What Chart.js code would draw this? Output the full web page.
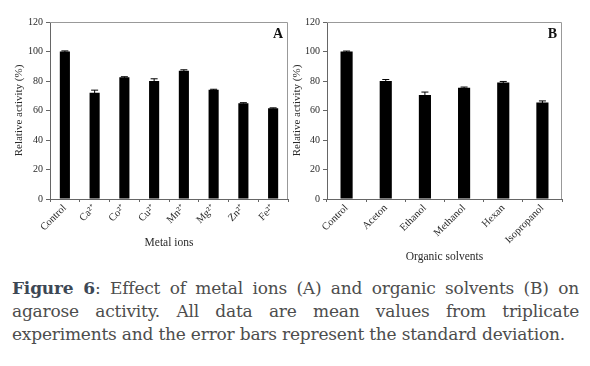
<!DOCTYPE html>
<html>
<head>
<meta charset="utf-8">
<script src="https://cdn.jsdelivr.net/npm/chart.js@4.4.1/dist/chart.umd.min.js"></script>
<style>
  body { margin: 0; background: #fff; width: 590px; height: 366px; position: relative; overflow: hidden; }
  .panel { position: absolute; top: 0; height: 270px; }
  #caption {
    position: absolute; left: 12px; top: 277px; width: 567px;
    font-family: "DejaVu Serif", serif; font-size: 17px; line-height: 23px;
    letter-spacing: -0.2px; color: #4d4d4d; text-align: justify;
  }
  #caption b { color: #3d4855; }
</style>
</head>
<body>
<div class="panel" style="left:0;width:295px"><canvas id="chartA"></canvas></div>
<div class="panel" style="left:288px;width:302px"><canvas id="chartB"></canvas></div>
<div id="caption"><b>Figure 6</b>: Effect of metal ions (A) and organic solvents (B) on agarose activity. All data are mean values from triplicate experiments and the error bars represent the standard deviation.</div>
<script>
// panel A - metal ions
const metalLabels = ["Control", "Ca²⁺", "Co²⁺", "Cu²⁺", "Mn²⁺", "Mg²⁺", "Zn²⁺", "Fe²⁺"];
const metalValues = [100, 72, 82.5, 80, 87, 74, 65, 61.5];
const metalErrors = [0.4, 1.8, 0.4, 1.5, 0.6, 0.4, 0.3, 0.3];

// panel B - organic solvents
const solventLabels = ["Control", "Aceton", "Ethanol", "Methanol", "Hexan", "Isopropanol"];
const solventValues = [100, 80, 70.5, 75.5, 79, 65.5];
const solventErrors = [0.3, 1, 2, 0.4, 0.7, 1];

const yTicks = [0, 20, 40, 60, 80, 100, 120];

const serif = "'Liberation Serif', 'Times New Roman', serif";
const textCol = "#2a2a2a";

// draws the error bars (from the value +/- sd through the y scale) and the box frame
const extrasPlugin = {
    id: "extras",
    afterDatasetsDraw(chart) {
        const ctx = chart.ctx;
        const y = chart.scales.y;
        const errs = chart.options.plugins.extras.errors;
        const vals = chart.data.datasets[0].data;
        chart.getDatasetMeta(0).data.forEach((bar, i) => {
            const top = y.getPixelForValue(vals[i] + errs[i]);
            const bot = y.getPixelForValue(vals[i] - errs[i]);
            ctx.save();
            ctx.strokeStyle = "#000";
            ctx.lineWidth = 1;
            ctx.beginPath();
            ctx.moveTo(bar.x, bot);
            ctx.lineTo(bar.x, top);
            ctx.moveTo(bar.x - 3.5, top);
            ctx.lineTo(bar.x + 3.5, top);
            ctx.stroke();
            ctx.restore();
        });
        const a = chart.chartArea;
        ctx.save();
        ctx.strokeStyle = "#999";
        ctx.lineWidth = 1;
        ctx.beginPath();
        ctx.moveTo(a.left, a.top + 0.5);
        ctx.lineTo(a.right - 0.5, a.top + 0.5);
        ctx.lineTo(a.right - 0.5, a.bottom);
        ctx.stroke();
        ctx.font = "bold 14px " + serif;
        ctx.fillStyle = "#111";
        ctx.textAlign = "right";
        ctx.textBaseline = "middle";
        ctx.fillText(chart.options.plugins.extras.tag, a.right - 5, a.top + 12);
        ctx.restore();
    }
};

const makeChart = (id, labels, values, errors, xTitle, tag, opts) => {
    return new Chart(document.getElementById(id), {
        type: "bar",
        data: {
            labels: labels,
            datasets: [{
                data: values,
                backgroundColor: "#000",
                borderWidth: 0,
                barPercentage: opts.barPct,
                categoryPercentage: 1
            }]
        },
        options: {
            responsive: true,
            maintainAspectRatio: false,
            animation: false,
            layout: { padding: { top: 22, right: opts.right, left: 0, bottom: 0 } },
            plugins: {
                legend: { display: false },
                tooltip: { enabled: false },
                extras: { errors: errors, tag: tag }
            },
            scales: {
                x: {
                    grid: { display: true, drawOnChartArea: false, tickLength: 3, color: "#666" },
                    border: { color: "#666" },
                    ticks: {
                        minRotation: 45, maxRotation: 45, color: textCol,
                        font: { family: serif, size: 10.5 }, padding: 0
                    },
                    title: {
                        display: true, text: xTitle, color: textCol,
                        font: { family: serif, size: 11.5 }, padding: { top: 0, bottom: opts.xTitlePad }
                    },
                    afterFit: (s) => { s.height = 71; }
                },
                y: {
                    min: 0, max: 120,
                    afterBuildTicks: (s) => { s.ticks = yTicks.map(v => ({ value: v })); },
                    grid: { display: true, drawOnChartArea: false, tickLength: 4, color: "#666" },
                    border: { color: "#666" },
                    ticks: { color: textCol, font: { family: serif, size: 10 }, padding: 3 },
                    title: {
                        display: true, text: "Relative activity (%)", color: textCol,
                        font: { family: serif, size: 11 }, padding: { top: opts.yTitlePad, bottom: 0 }
                    },
                    afterFit: (s) => { s.width = opts.yWidth; }
                }
            }
        },
        plugins: [extrasPlugin]
    });
};

makeChart("chartA", metalLabels, metalValues, metalErrors, "Metal ions", "A",
    { barPct: 0.34, right: 7, yWidth: 50, xTitlePad: 20, yTitlePad: 13 });
makeChart("chartB", solventLabels, solventValues, solventErrors, "Organic solvents", "B",
    { barPct: 0.31, right: 28, yWidth: 39, xTitlePad: 6, yTitlePad: 3 });
</script>
</body>
</html>
